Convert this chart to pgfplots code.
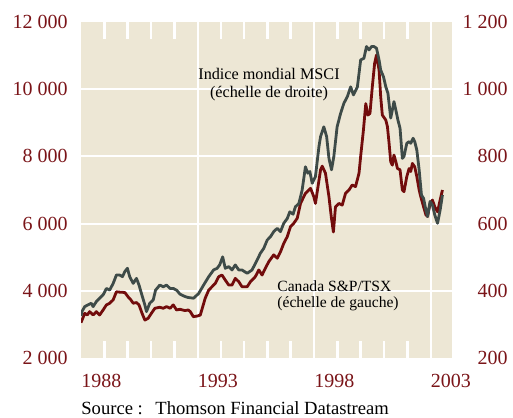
\documentclass[border=0pt]{standalone}
\usepackage{fontspec}
\setmainfont{Liberation Serif}
\usepackage{pgfplots}
\pgfplotsset{compat=1.18}
\definecolor{bgc}{HTML}{EDE7D5}
\definecolor{tsx}{HTML}{720C0C}
\definecolor{msci}{HTML}{3E4B48}
\definecolor{lab}{HTML}{7A1418}
\begin{document}
\begin{tikzpicture}
\pgfplotsset{
  base/.style={
    width=185.5pt, height=168pt, scale only axis,
    xmin=1988, xmax=2003.92,
    axis line style={draw=none},
    scaled x ticks=false, scaled y ticks=false,
    major tick length=0pt,
    tick style={draw=none},
  }
}
\begin{axis}[base,
  at={(40.5pt,29.5pt)}, anchor=south west,
  ymin=2000, ymax=12000,
  axis background/.style={fill=bgc},
  ytick={2000,4000,6000,8000,10000,12000},
  yticklabels={2~000,4~000,6~000,8~000,10~000,12~000},
  yticklabel style={anchor=east, inner sep=0pt, xshift=-6.5pt, font=\fontsize{10}{12}\selectfont, text=lab},
  xtick={1988,1993,1998,2003},
  xticklabels={1988,1993,1998,2003},
  xticklabel style={anchor=base west, inner sep=0pt, yshift=-14.75pt, font=\fontsize{10}{12}\selectfont, text=lab},
]
\draw[white, line width=1pt] (axis cs:1988,4000) -- (axis cs:2003.92,4000);
\draw[white, line width=1pt] (axis cs:1988,6000) -- (axis cs:2003.92,6000);
\draw[white, line width=1pt] (axis cs:1988,8000) -- (axis cs:2003.92,8000);
\draw[white, line width=1pt] (axis cs:1988,10000) -- (axis cs:2003.92,10000);
\draw[white, line width=1pt] (axis cs:1993,2000) -- (axis cs:1993,12000);
\draw[white, line width=1pt] (axis cs:1998,2000) -- (axis cs:1998,12000);
\draw[white, line width=1pt] (axis cs:2003,2000) -- (axis cs:2003,12000);
\draw[white, line width=1.3pt] (axis cs:1989,2000) -- (axis cs:1989,2520);
\draw[white, line width=1.3pt] (axis cs:1990,2000) -- (axis cs:1990,2520);
\draw[white, line width=1.3pt] (axis cs:1991,2000) -- (axis cs:1991,2520);
\draw[white, line width=1.3pt] (axis cs:1992,2000) -- (axis cs:1992,2520);
\draw[white, line width=1.3pt] (axis cs:1994,2000) -- (axis cs:1994,2520);
\draw[white, line width=1.3pt] (axis cs:1995,2000) -- (axis cs:1995,2520);
\draw[white, line width=1.3pt] (axis cs:1996,2000) -- (axis cs:1996,2520);
\draw[white, line width=1.3pt] (axis cs:1997,2000) -- (axis cs:1997,2520);
\draw[white, line width=1.3pt] (axis cs:1999,2000) -- (axis cs:1999,2520);
\draw[white, line width=1.3pt] (axis cs:2000,2000) -- (axis cs:2000,2520);
\draw[white, line width=1.3pt] (axis cs:2001,2000) -- (axis cs:2001,2520);
\draw[white, line width=1.3pt] (axis cs:2002,2000) -- (axis cs:2002,2520);
\draw[white, line width=1.3pt] (axis cs:1989,12000) -- (axis cs:1989,11480);
\draw[white, line width=1.3pt] (axis cs:1990,12000) -- (axis cs:1990,11480);
\draw[white, line width=1.3pt] (axis cs:1991,12000) -- (axis cs:1991,11480);
\draw[white, line width=1.3pt] (axis cs:1992,12000) -- (axis cs:1992,11480);
\draw[white, line width=1.3pt] (axis cs:1994,12000) -- (axis cs:1994,11480);
\draw[white, line width=1.3pt] (axis cs:1995,12000) -- (axis cs:1995,11480);
\draw[white, line width=1.3pt] (axis cs:1996,12000) -- (axis cs:1996,11480);
\draw[white, line width=1.3pt] (axis cs:1997,12000) -- (axis cs:1997,11480);
\draw[white, line width=1.3pt] (axis cs:1999,12000) -- (axis cs:1999,11480);
\draw[white, line width=1.3pt] (axis cs:2000,12000) -- (axis cs:2000,11480);
\draw[white, line width=1.3pt] (axis cs:2001,12000) -- (axis cs:2001,11480);
\draw[white, line width=1.3pt] (axis cs:2002,12000) -- (axis cs:2002,11480);
\addplot[tsx, line width=1.4pt, line join=round, no marks] coordinates {
(1988.00,3050)(1988.16,3330)(1988.27,3280)(1988.37,3380)(1988.52,3280)(1988.66,3380)(1988.80,3280)(1988.95,3430)(1989.09,3580)(1989.23,3630)(1989.38,3730)(1989.52,3970)(1989.66,3960)(1989.88,3950)(1990.02,3820)(1990.14,3730)(1990.24,3630)(1990.38,3650)(1990.49,3580)(1990.62,3330)(1990.74,3130)(1990.88,3180)(1991.02,3330)(1991.17,3480)(1991.38,3510)(1991.53,3480)(1991.67,3530)(1991.82,3480)(1991.96,3580)(1992.10,3430)(1992.25,3450)(1992.46,3410)(1992.60,3430)(1992.69,3380)(1992.82,3230)(1993.00,3250)(1993.12,3280)(1993.33,3780)(1993.48,4020)(1993.62,4120)(1993.76,4220)(1993.91,4420)(1994.05,4470)(1994.19,4320)(1994.34,4170)(1994.48,4170)(1994.62,4370)(1994.77,4270)(1994.91,4120)(1995.13,4120)(1995.27,4270)(1995.48,4420)(1995.63,4620)(1995.77,4470)(1995.91,4670)(1996.06,4870)(1996.27,5070)(1996.42,4970)(1996.56,5160)(1996.70,5410)(1996.85,5610)(1996.99,5910)(1997.13,6010)(1997.28,6160)(1997.42,6600)(1997.63,6900)(1997.85,7050)(1997.99,6800)(1998.06,6600)(1998.28,7600)(1998.35,7710)(1998.49,7500)(1998.64,6800)(1998.74,6200)(1998.83,5750)(1998.92,6500)(1999.07,6600)(1999.21,6550)(1999.35,6900)(1999.50,7000)(1999.64,7150)(1999.78,7100)(1999.93,7500)(2000.00,8000)(2000.12,8790)(2000.22,9570)(2000.31,9230)(2000.40,9280)(2000.50,10070)(2000.60,10770)(2000.68,11020)(2000.79,10570)(2000.86,9780)(2000.93,9230)(2001.08,9080)(2001.15,8880)(2001.22,8390)(2001.29,7840)(2001.36,7740)(2001.43,8040)(2001.51,7840)(2001.58,7640)(2001.69,7600)(2001.79,7000)(2001.86,6950)(2001.98,7400)(2002.08,7640)(2002.15,7550)(2002.22,7790)(2002.32,7690)(2002.41,7400)(2002.51,7000)(2002.58,6800)(2002.70,6500)(2002.80,6260)(2002.87,6210)(2002.98,6600)(2003.08,6700)(2003.18,6500)(2003.30,6350)(2003.41,6700)(2003.51,7000)
};
\end{axis}
\begin{axis}[base,
  at={(40.5pt,29.5pt)}, anchor=south west,
  ymin=200, ymax=1200,
  xtick=\empty,
  ytick pos=right,
  ytick={200,400,600,800,1000,1200},
  yticklabels={200,400,600,800,1~000,1~200},
  yticklabel style={anchor=east, inner sep=0pt, xshift=28pt, font=\fontsize{10}{12}\selectfont, text=lab},
]
\addplot[msci, line width=1.4pt, line join=round, no marks] coordinates {
(1988.00,325)(1988.04,338)(1988.16,353)(1988.30,358)(1988.44,363)(1988.52,353)(1988.66,368)(1988.80,378)(1988.95,388)(1989.09,407)(1989.23,402)(1989.38,422)(1989.52,447)(1989.66,447)(1989.78,442)(1989.88,457)(1989.99,467)(1990.09,442)(1990.24,422)(1990.38,437)(1990.49,417)(1990.59,393)(1990.74,358)(1990.81,338)(1990.95,363)(1991.10,373)(1991.20,402)(1991.38,417)(1991.53,412)(1991.67,417)(1991.82,407)(1991.96,407)(1992.10,402)(1992.25,390)(1992.46,383)(1992.60,380)(1992.83,378)(1993.05,392)(1993.26,417)(1993.48,442)(1993.69,462)(1993.84,467)(1993.95,477)(1994.08,501)(1994.19,467)(1994.34,472)(1994.48,462)(1994.62,477)(1994.77,462)(1994.91,462)(1995.13,452)(1995.34,462)(1995.56,492)(1995.70,512)(1995.84,526)(1995.99,551)(1996.13,561)(1996.27,576)(1996.42,586)(1996.56,576)(1996.70,601)(1996.85,615)(1996.96,635)(1997.10,628)(1997.20,650)(1997.35,660)(1997.49,700)(1997.63,769)(1997.73,750)(1997.82,755)(1997.92,720)(1998.06,740)(1998.21,829)(1998.28,859)(1998.42,888)(1998.54,859)(1998.64,794)(1998.75,760)(1998.85,800)(1998.99,888)(1999.14,928)(1999.28,958)(1999.43,978)(1999.57,1007)(1999.69,983)(1999.86,1007)(2000.00,1087)(2000.14,1092)(2000.25,1127)(2000.36,1117)(2000.47,1127)(2000.57,1127)(2000.68,1122)(2000.79,1087)(2000.86,1057)(2000.98,1037)(2001.08,1007)(2001.17,988)(2001.29,914)(2001.36,938)(2001.43,963)(2001.51,938)(2001.60,908)(2001.69,884)(2001.79,794)(2001.86,800)(2001.98,839)(2002.08,844)(2002.15,839)(2002.25,854)(2002.32,844)(2002.41,819)(2002.51,760)(2002.61,685)(2002.70,675)(2002.80,640)(2002.87,621)(2002.98,666)(2003.08,655)(2003.18,626)(2003.30,601)(2003.41,640)(2003.51,685)
};
\end{axis}
\node[anchor=base, inner sep=0pt, font=\fontsize{8.1}{9.5}\selectfont] at (134.5pt,168.5pt) {Indice mondial MSCI};
\node[anchor=base, inner sep=0pt, font=\fontsize{8.1}{9.5}\selectfont] at (134.5pt,159.5pt) {(échelle de droite)};
\node[anchor=base west, inner sep=0pt, font=\fontsize{7.8}{9.5}\selectfont] at (138.5pt,62.6pt) {Canada S\&P/TSX};
\node[anchor=base west, inner sep=0pt, font=\fontsize{7.8}{9.5}\selectfont] at (138.5pt,54.5pt) {(échelle de gauche)};
\node[anchor=base west, inner sep=0pt, font=\fontsize{9.3}{11}\selectfont] at (40.5pt,1.5pt) {Source :};
\node[anchor=base west, inner sep=0pt, font=\fontsize{9.3}{11}\selectfont] at (77.5pt,1.5pt) {Thomson Financial Datastream};
\pgfresetboundingbox
\useasboundingbox (0,0) rectangle (256.5pt,208.5pt);
\end{tikzpicture}
\end{document}
